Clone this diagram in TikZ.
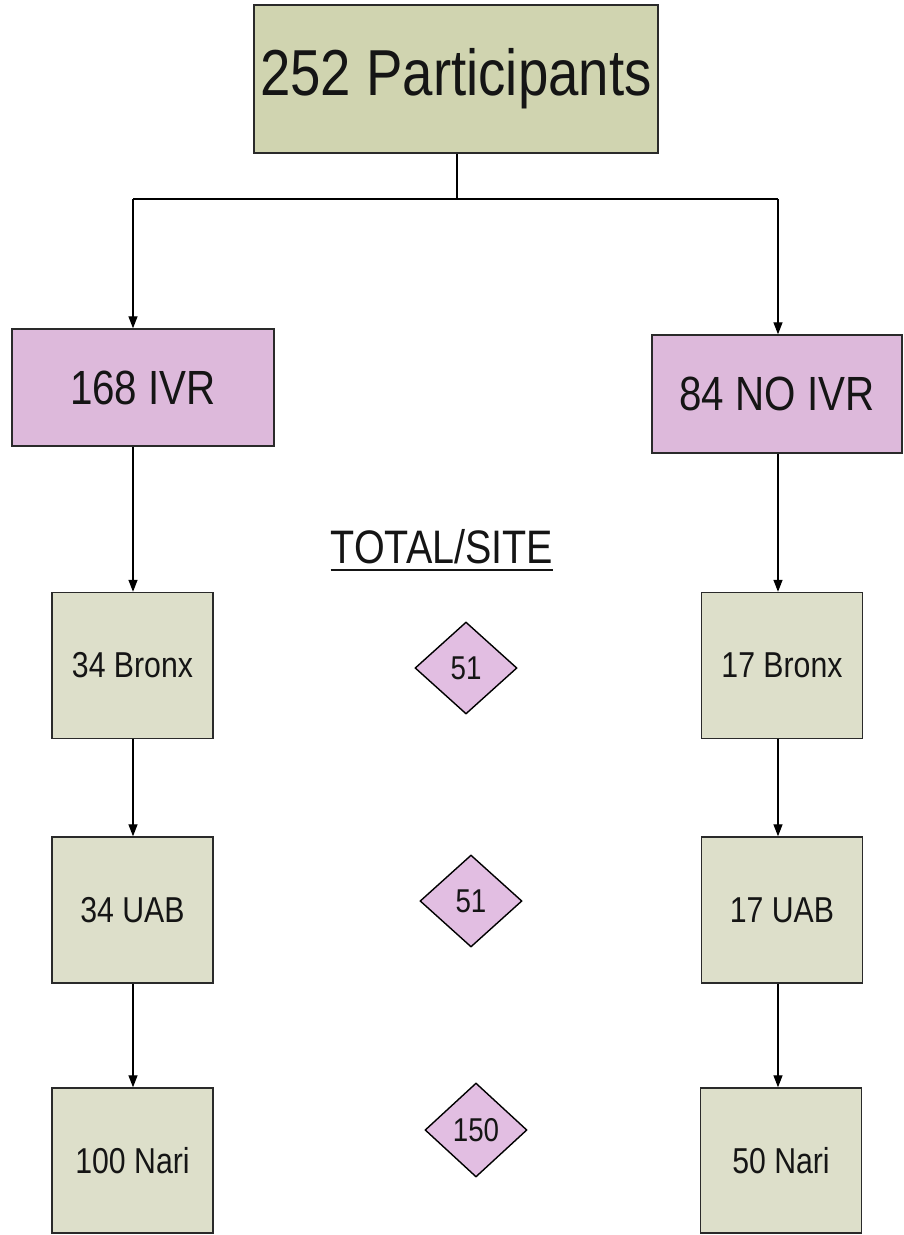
\documentclass[tikz,border=0pt]{standalone}
\usepackage{fontspec}
\setmainfont{Liberation Sans}[FakeStretch=0.84]
\usetikzlibrary{arrows.meta,shapes.geometric}
\definecolor{topfill}{HTML}{D0D4B0}
\definecolor{sitefill}{HTML}{DDDFCA}
\definecolor{armfill}{HTML}{DDB9DB}
\definecolor{diafill}{HTML}{E2BEE2}
\definecolor{edge}{HTML}{2A2A2A}
\definecolor{ink}{HTML}{151515}
\tikzset{
  boxbase/.style={draw=edge, line width=1.4pt, inner sep=0pt, text=ink},
  topbox/.style={boxbase, fill=topfill, minimum width=404pt, minimum height=148pt, font=\fontsize{65}{70}\selectfont},
  armbox/.style={boxbase, fill=armfill, font=\fontsize{48}{52}\selectfont},
  sitebox/.style={boxbase, fill=sitefill, minimum width=161pt, minimum height=146pt, font=\fontsize{36}{40}\selectfont},
  dia/.style={diamond, draw=black, line width=1.4pt, fill=diafill, inner sep=0pt, minimum width=102pt, minimum height=92pt, text=ink, font=\fontsize{33}{36}\selectfont},
  arr/.style={draw=black, line width=1.3pt, -{Triangle[length=12pt,width=9pt]}},
  plain/.style={draw=black, line width=1.3pt}
}
\begin{document}
\begin{tikzpicture}[x=1pt,y=-1pt]
\useasboundingbox[fill=white] (0,0) rectangle (904,1235);
% top
\node[topbox] (top) at (456,79) {252 Participants};
% arms
\node[armbox, minimum width=262pt, minimum height=117pt] (ivr) at (143,387.5) {168 IVR};
\node[armbox, minimum width=250pt, minimum height=118pt] (noivr) at (777,394) {84 NO IVR};
% sites left
\node[sitebox] (lb) at (132.5,665.5) {34 Bronx};
\node[sitebox] (lu) at (132.5,910) {34 UAB};
\node[sitebox, minimum height=145pt] (ln) at (132.5,1160.5) {100 Nari};
% sites right
\node[sitebox] (rb) at (782,665.5) {17 Bronx};
\node[sitebox] (ru) at (782,910) {17 UAB};
\node[sitebox, minimum height=145pt] (rn) at (781,1160.5) {50 Nari};
% totals
\node[anchor=base, inner sep=0pt, text=ink, font=\fontsize{47}{50}\selectfont] (tot) at (442,563) {TOTAL/SITE};
\draw[line width=2.2pt, draw=ink] ([yshift=-7pt]tot.base west) -- ([yshift=-7pt]tot.base east);
\node[dia] (d1) at (466,668) {51};
\node[dia] (d2) at (471,901) {51};
\node[dia, minimum height=94pt] (d3) at (476,1130) {150};
% connectors
\coordinate (split) at (457,199);
\coordinate (lx) at (133,199);
\coordinate (rx) at (778,199);
\draw[plain] (top.south -| split) -- (split);
\draw[plain] (lx) -- (rx);
\draw[arr] (lx) -- (lx |- ivr.north);
\draw[arr] (rx) -- (rx |- noivr.north);
\draw[arr] (lx |- ivr.south) -- (lx |- lb.north);
\draw[arr] (lx |- lb.south) -- (lx |- lu.north);
\draw[arr] (lx |- lu.south) -- (lx |- ln.north);
\draw[arr] (rx |- noivr.south) -- (rx |- rb.north);
\draw[arr] (rx |- rb.south) -- (rx |- ru.north);
\draw[arr] (rx |- ru.south) -- (rx |- rn.north);
\end{tikzpicture}
\end{document}
